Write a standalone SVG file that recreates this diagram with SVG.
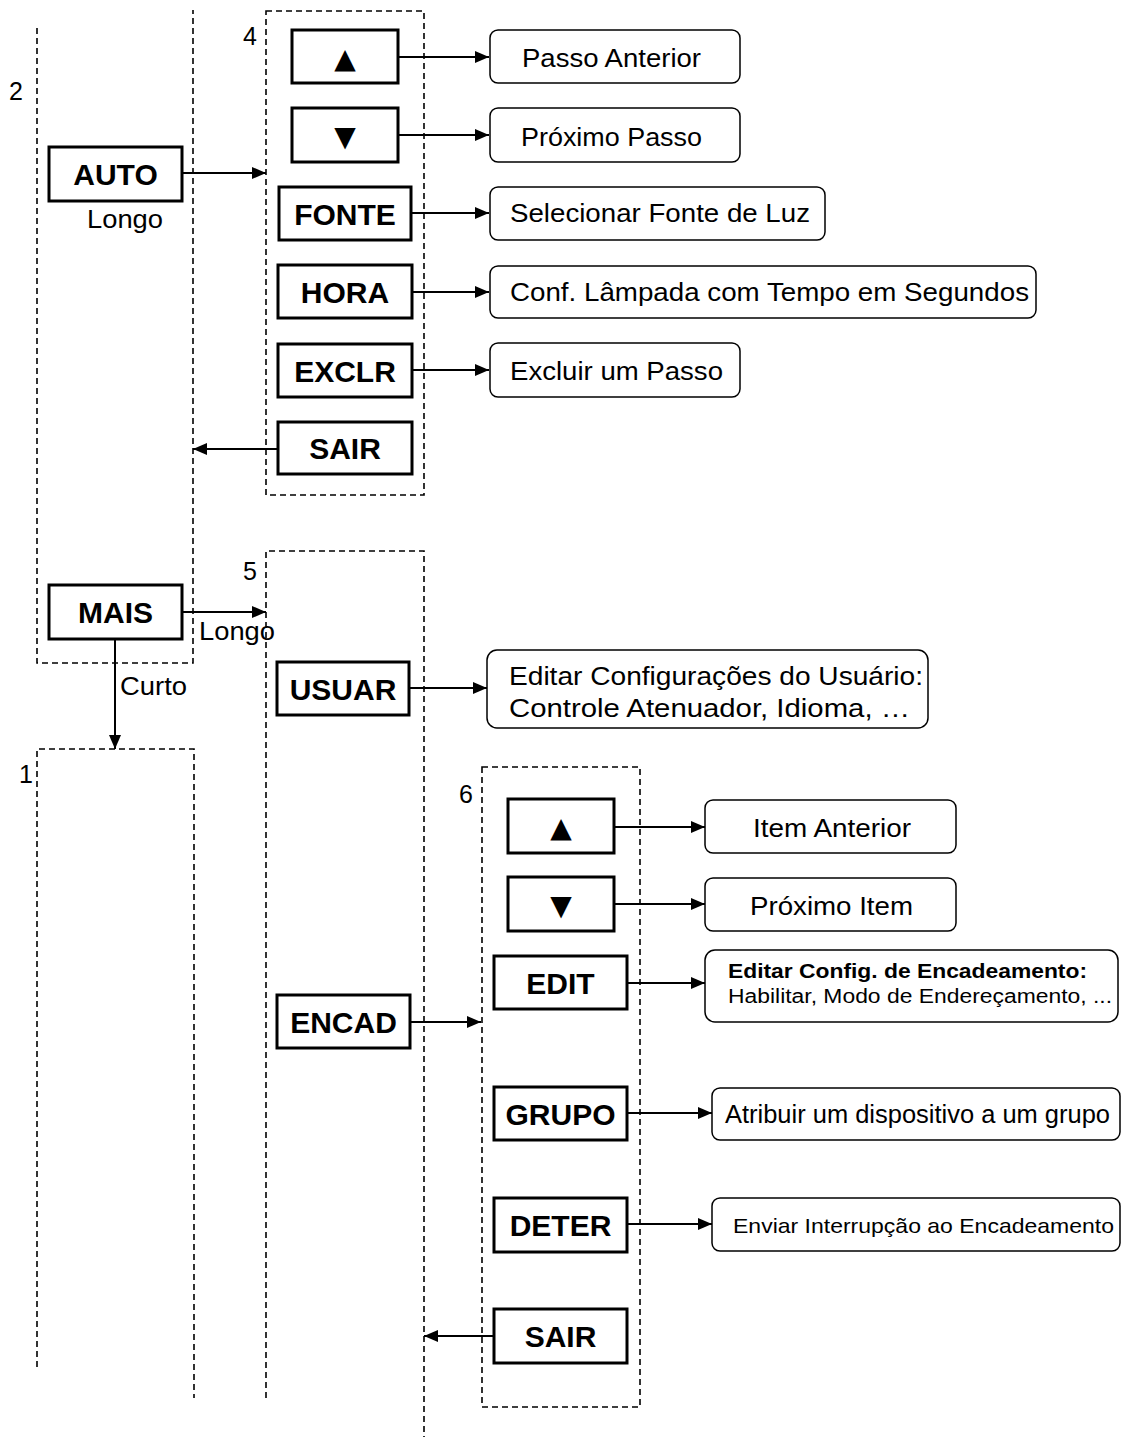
<svg xmlns="http://www.w3.org/2000/svg" width="1124" height="1437" viewBox="0 0 1124 1437">
<defs>
<marker id="ah" markerUnits="userSpaceOnUse" markerWidth="14" markerHeight="12" refX="14" refY="6" orient="auto">
<path d="M0,0 L14,6 L0,12 z" fill="#000"/>
</marker>
<style>
.grp{fill:none;stroke:#000;stroke-width:1.6;stroke-dasharray:6 4}
.btn{fill:#fff;stroke:#000;stroke-width:3}
.desc{fill:#fff;stroke:#000;stroke-width:1.5}
.bl{font-family:"Liberation Sans",Arial,sans-serif;font-weight:bold;font-size:30px;text-anchor:middle;fill:#000}
.sym{font-family:"DejaVu Sans",sans-serif;font-size:28px;text-anchor:middle;fill:#000}
.t{font-family:"Liberation Sans",Arial,sans-serif;font-size:26px;fill:#000}
.num{font-family:"Liberation Sans",Arial,sans-serif;font-size:25px;fill:#000}
.con{fill:none;stroke:#000;stroke-width:2;marker-end:url(#ah)}
</style>
</defs>
<rect width="1124" height="1437" fill="#fff"/>

<g id="group2">
<path class="grp" d="M37,28 V663 H193 V10"/>
<text class="num" x="9" y="100">2</text>
</g>
<g id="group1">
<path class="grp" d="M37,1367 V749 H194 V1398"/>
<text class="num" x="19" y="783">1</text>
</g>
<g id="group4">
<rect class="grp" x="266" y="11" width="158" height="484"/>
<text class="num" x="243" y="45">4</text>
</g>
<g id="group5">
<path class="grp" d="M266,1398 V551 H424 V1437"/>
<text class="num" x="243" y="580">5</text>
</g>
<g id="group6">
<rect class="grp" x="482" y="767" width="158" height="640"/>
<text class="num" x="459" y="803">6</text>
</g>

<g id="connectors">
<path class="con" d="M182,173 H266"/>
<path class="con" d="M278,449 H193"/>
<path class="con" d="M398,57 H489"/>
<path class="con" d="M398,135 H489"/>
<path class="con" d="M411,213 H489"/>
<path class="con" d="M412,292 H489"/>
<path class="con" d="M412,370 H489"/>
<path class="con" d="M182,612 H266"/>
<path class="con" d="M115,639 V749"/>
<path class="con" d="M409,688 H487"/>
<path class="con" d="M410,1022 H481"/>
<path class="con" d="M614,827 H705"/>
<path class="con" d="M614,904 H705"/>
<path class="con" d="M627,983 H705"/>
<path class="con" d="M627,1113 H712"/>
<path class="con" d="M627,1224 H712"/>
<path class="con" d="M494,1336 H424"/>
</g>

<g id="auto">
<rect class="btn" x="49" y="147" width="133" height="54"/>
<text class="bl" x="115.5" y="185">AUTO</text>
<text class="t" x="87" y="228" textLength="76" lengthAdjust="spacingAndGlyphs">Longo</text>
</g>
<g id="mais">
<rect class="btn" x="49" y="585" width="133" height="54"/>
<text class="bl" x="115.5" y="623">MAIS</text>
<text class="t" x="199" y="640" textLength="76" lengthAdjust="spacingAndGlyphs">Longo</text>
<text class="t" x="120" y="695" textLength="67" lengthAdjust="spacingAndGlyphs">Curto</text>
</g>

<g id="up4">
<rect class="btn" x="292" y="30" width="106" height="53"/>
<text class="sym" x="345" y="68">▲</text>
</g>
<g id="down4">
<rect class="btn" x="292" y="108" width="106" height="54"/>
<text class="sym" x="345" y="146">▼</text>
</g>
<g id="fonte">
<rect class="btn" x="279" y="187" width="132" height="53"/>
<text class="bl" x="345" y="225">FONTE</text>
</g>
<g id="hora">
<rect class="btn" x="278" y="265" width="134" height="53"/>
<text class="bl" x="345" y="303">HORA</text>
</g>
<g id="exclr">
<rect class="btn" x="278" y="344" width="134" height="53"/>
<text class="bl" x="345" y="382">EXCLR</text>
</g>
<g id="sair4">
<rect class="btn" x="278" y="422" width="134" height="52"/>
<text class="bl" x="345" y="459">SAIR</text>
</g>

<g id="d-passo-ant">
<rect class="desc" x="490" y="30" width="250" height="53" rx="8"/>
<text class="t" x="522" y="67" textLength="179" lengthAdjust="spacingAndGlyphs">Passo Anterior</text>
</g>
<g id="d-prox-passo">
<rect class="desc" x="490" y="108" width="250" height="54" rx="8"/>
<text class="t" x="521" y="146" textLength="181" lengthAdjust="spacingAndGlyphs">Próximo Passo</text>
</g>
<g id="d-fonte">
<rect class="desc" x="490" y="187" width="335" height="53" rx="8"/>
<text class="t" x="510" y="222" textLength="300" lengthAdjust="spacingAndGlyphs">Selecionar Fonte de Luz</text>
</g>
<g id="d-hora">
<rect class="desc" x="490" y="266" width="546" height="52" rx="8"/>
<text class="t" x="510" y="301" textLength="519" lengthAdjust="spacingAndGlyphs">Conf. Lâmpada com Tempo em Segundos</text>
</g>
<g id="d-exclr">
<rect class="desc" x="490" y="343" width="250" height="54" rx="8"/>
<text class="t" x="510" y="380" textLength="213" lengthAdjust="spacingAndGlyphs">Excluir um Passo</text>
</g>

<g id="usuar">
<rect class="btn" x="277" y="662" width="132" height="53"/>
<text class="bl" x="343" y="700">USUAR</text>
</g>
<g id="d-usuar">
<rect class="desc" x="487" y="650" width="441" height="78" rx="10"/>
<text class="t" x="509" y="685" textLength="414" lengthAdjust="spacingAndGlyphs">Editar Configurações do Usuário:</text>
<text class="t" x="509" y="717" textLength="401" lengthAdjust="spacingAndGlyphs">Controle Atenuador, Idioma, …</text>
</g>
<g id="encad">
<rect class="btn" x="277" y="995" width="133" height="53"/>
<text class="bl" x="343.5" y="1033">ENCAD</text>
</g>

<g id="up6">
<rect class="btn" x="508" y="799" width="106" height="54"/>
<text class="sym" x="561" y="837">▲</text>
</g>
<g id="down6">
<rect class="btn" x="508" y="877" width="106" height="54"/>
<text class="sym" x="561" y="915">▼</text>
</g>
<g id="edit">
<rect class="btn" x="494" y="956" width="133" height="53"/>
<text class="bl" x="560.5" y="994">EDIT</text>
</g>
<g id="grupo">
<rect class="btn" x="494" y="1087" width="133" height="53"/>
<text class="bl" x="560.5" y="1125">GRUPO</text>
</g>
<g id="deter">
<rect class="btn" x="494" y="1198" width="133" height="54"/>
<text class="bl" x="560.5" y="1236">DETER</text>
</g>
<g id="sair6">
<rect class="btn" x="494" y="1309" width="133" height="54"/>
<text class="bl" x="560.5" y="1347">SAIR</text>
</g>

<g id="d-item-ant">
<rect class="desc" x="705" y="800" width="251" height="53" rx="8"/>
<text class="t" x="753" y="837" textLength="158" lengthAdjust="spacingAndGlyphs">Item Anterior</text>
</g>
<g id="d-prox-item">
<rect class="desc" x="705" y="878" width="251" height="53" rx="8"/>
<text class="t" x="750" y="915" textLength="163" lengthAdjust="spacingAndGlyphs">Próximo Item</text>
</g>
<g id="d-edit">
<rect class="desc" x="705" y="950" width="413" height="72" rx="10"/>
<text class="t" x="728" y="978" style="font-size:20px;font-weight:bold" textLength="359" lengthAdjust="spacingAndGlyphs">Editar Config. de Encadeamento:</text>
<text class="t" x="728" y="1003" style="font-size:20px" textLength="384" lengthAdjust="spacingAndGlyphs">Habilitar, Modo de Endereçamento, ...</text>
</g>
<g id="d-grupo">
<rect class="desc" x="712" y="1088" width="408" height="52" rx="8"/>
<text class="t" x="725" y="1123" style="font-size:25px" textLength="385" lengthAdjust="spacingAndGlyphs">Atribuir um dispositivo a um grupo</text>
</g>
<g id="d-deter">
<rect class="desc" x="712" y="1198" width="408" height="53" rx="8"/>
<text class="t" x="733" y="1233" style="font-size:21px" textLength="381" lengthAdjust="spacingAndGlyphs">Enviar Interrupção ao Encadeamento</text>
</g>
</svg>
